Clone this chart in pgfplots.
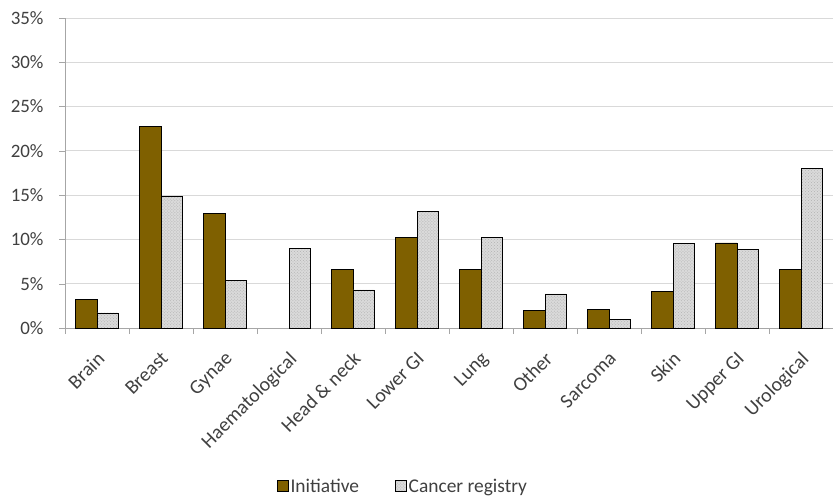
\documentclass[border=0pt]{standalone}
\usepackage{fontspec}
\setmainfont{Carlito}
\usepackage{pgfplots}
\pgfplotsset{compat=1.18}
\usetikzlibrary{patterns}
\definecolor{initc}{HTML}{7F6000}
\definecolor{regc}{HTML}{DADADA}
\definecolor{gridc}{HTML}{D9D9D9}
\definecolor{axc}{HTML}{A6A6A6}
\definecolor{txtc}{HTML}{404040}
\begin{document}
\begin{tikzpicture}
\begin{axis}[
  scale only axis,
  width=768bp, height=310bp,
  xmin=-0.5, xmax=11.5,
  ymin=0, ymax=35,
  axis x line*=bottom, axis y line*=left,
  axis line style={axc, -},
  xtick={0,...,11},
  xticklabels={Brain,Breast,Gynae,Haematological,Head \& neck,Lower GI,Lung,Other,Sarcoma,Skin,Upper GI,Urological},
  major x tick style={draw=none},
  minor xtick={-0.5,0.5,...,11.5},
  minor x tick style={axc},
  minor tick length=6bp,
  tick align=outside,
  xticklabel style={xshift=-1bp, yshift=-15bp, rotate=45, anchor=north east, font=\fontsize{20}{22}\selectfont, text=txtc, inner sep=1bp},
  ytick={0,5,...,35},
  yticklabels={0\%,5\%,10\%,15\%,20\%,25\%,30\%,35\%},
  yticklabel style={font=\fontsize{19}{21}\selectfont, text=txtc, xshift=-12bp},
  major y tick style={axc},
  major tick length=6bp,
  ymajorgrids, grid style={gridc, line width=0.8pt},
  ybar=0pt, bar width=0.335,
  legend style={draw=none, at={(0.44,-0.51)}, anchor=center, legend columns=2, font=\fontsize{19.5}{21}\selectfont, text=txtc, nodes={inner sep=2bp}, /tikz/every even column/.append style={column sep=34bp}},
  legend image code/.code={\draw[#1, draw=black, line width=0.6pt] (0bp,-5bp) rectangle (11bp,6bp);},
]
\addplot[fill=initc, draw=black, line width=0.8pt, bar shift=-0.1675] coordinates {
(0,3.27) (1,22.8) (2,12.9) (4,6.6) (5,10.2) (6,6.6) (7,1.95) (8,2.05) (9,4.15) (10,9.6) (11,6.65)};
\addlegendentry{Initiative}
\addplot[fill=regc, draw=black, line width=0.8pt, bar shift=0.1675, postaction={pattern=crosshatch dots, pattern color=gray!60}] coordinates {
(0,1.7) (1,14.9) (2,5.4) (3,9.0) (4,4.3) (5,13.2) (6,10.2) (7,3.85) (8,1.0) (9,9.55) (10,8.85) (11,18.0)};
\addlegendentry{Cancer registry}
\end{axis}
\pgfresetboundingbox
\path[use as bounding box] (-65bp,-170bp) rectangle (768bp,328bp);
\end{tikzpicture}
\end{document}
